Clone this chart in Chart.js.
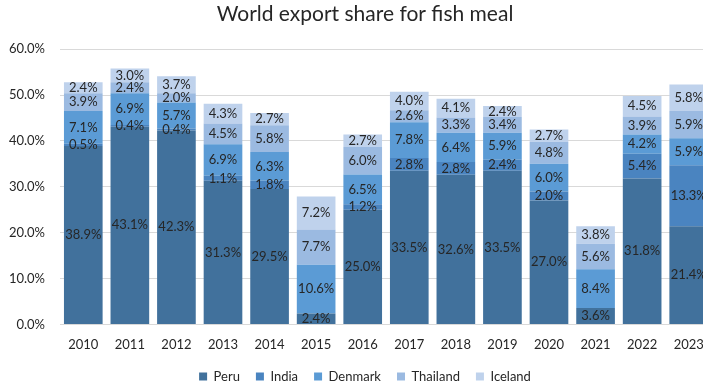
<!DOCTYPE html>
<html>
<head>
<meta charset="utf-8">
<script src="https://cdn.jsdelivr.net/npm/chart.js@4"></script>
<style>
  html, body { margin: 0; padding: 0; background: #fff; overflow: hidden; }
  #wrap { width: 730px; height: 387px; }
</style>
</head>
<body>
<div id="wrap"><canvas id="chart" width="730" height="387"></canvas></div>
<script>
// years on the x axis
const years = ['2010', '2011', '2012', '2013', '2014', '2015', '2016',
               '2017', '2018', '2019', '2020', '2021', '2022', '2023'];

// export shares in percent (null = no bar segment)
const peru     = [38.9, 43.1, 42.3, 31.3, 29.5, 2.4, 25.0, 33.5, 32.6, 33.5, 27.0, 3.6, 31.8, 21.4];
const india    = [0.5, 0.4, 0.4, 1.1, 1.8, null, 1.2, 2.8, 2.8, 2.4, 2.0, null, 5.4, 13.3];
const denmark  = [7.1, 6.9, 5.7, 6.9, 6.3, 10.6, 6.5, 7.8, 6.4, 5.9, 6.0, 8.4, 4.2, 5.9];
const thailand = [3.9, 2.4, 2.0, 4.5, 5.8, 7.7, 6.0, 2.6, 3.3, 3.4, 4.8, 5.6, 3.9, 5.9];
const iceland  = [2.4, 3.0, 3.7, 4.3, 2.7, 7.2, 2.7, 4.0, 4.1, 2.4, 2.7, 3.8, 4.5, 5.8];

const yTicks = [0, 10, 20, 30, 40, 50, 60];

const FONT = 'Lato, "Open Sans", sans-serif';
const textColor = '#262626';

// valores centrados dentro de cada segmento
const etiquetas = {
    id: 'etiquetas',
    afterDatasetsDraw(chart) {
        const ctx = chart.ctx;
        ctx.save();
        ctx.font = '13px ' + FONT;
        ctx.fillStyle = textColor;
        ctx.textAlign = 'center';
        ctx.textBaseline = 'middle';
        chart.data.datasets.forEach((ds, i) => {
            const meta = chart.getDatasetMeta(i);
            meta.data.forEach((bar, j) => {
                const v = ds.data[j];
                if (v === null || v === undefined) return;
                const p = bar.getProps(['x', 'y', 'base'], true);
                ctx.fillText(v.toFixed(1) + '%', p.x, (p.y + p.base) / 2);
            });
        });
        ctx.restore();
    }
};

const series = [
    { label: 'Peru', data: peru, color: '#41719c' },
    { label: 'India', data: india, color: '#4a84c0' },
    { label: 'Denmark', data: denmark, color: '#5b9bd5' },
    { label: 'Thailand', data: thailand, color: '#9bbae1' },
    { label: 'Iceland', data: iceland, color: '#bfd2ec' }
];

new Chart(document.getElementById('chart'), {
    type: 'bar',
    data: {
        labels: years,
        datasets: series.map(s => ({
            label: s.label,
            data: s.data,
            backgroundColor: s.color,
            borderWidth: 0,
            categoryPercentage: 1,
            barPercentage: 0.83
        }))
    },
    options: {
        responsive: false,
        animation: false,
        layout: { padding: { left: 0, right: 0, top: 0, bottom: -6 } },
        plugins: {
            title: {
                display: true,
                text: 'World export share for fish meal',
                color: textColor,
                font: { family: FONT, size: 21, weight: 'normal' },
                padding: { top: 2, bottom: 22 }
            },
            legend: {
                position: 'bottom',
                labels: {
                    color: textColor,
                    font: { family: FONT, size: 13 },
                    boxWidth: 8,
                    boxHeight: 8,
                    padding: 16
                }
            },
            tooltip: { enabled: false }
        },
        scales: {
            x: {
                stacked: true,
                afterFit(scale) { scale.height = scale.height - 12; },
                grid: { display: false, drawTicks: false },
                border: { color: '#d9d9d9' },
                ticks: { color: textColor, font: { family: FONT, size: 13 }, padding: 13 }
            },
            y: {
                stacked: true,
                min: 0,
                max: 60,
                afterFit(scale) { scale.width = 60; },
                afterBuildTicks(scale) { scale.ticks = yTicks.map(v => ({ value: v })); },
                grid: { color: '#d9d9d9', drawTicks: false },
                border: { display: false },
                ticks: {
                    color: textColor,
                    font: { family: FONT, size: 13 },
                    padding: 15,
                    callback: v => v.toFixed(1) + '%'
                }
            },
            // empty strip on the right so the plot ends before the canvas edge
            derecha: {
                position: 'right',
                afterFit(scale) { scale.width = 18; },
                grid: { display: false },
                border: { display: false },
                ticks: { display: false }
            }
        }
    },
    plugins: [etiquetas]
});
</script>
</body>
</html>
